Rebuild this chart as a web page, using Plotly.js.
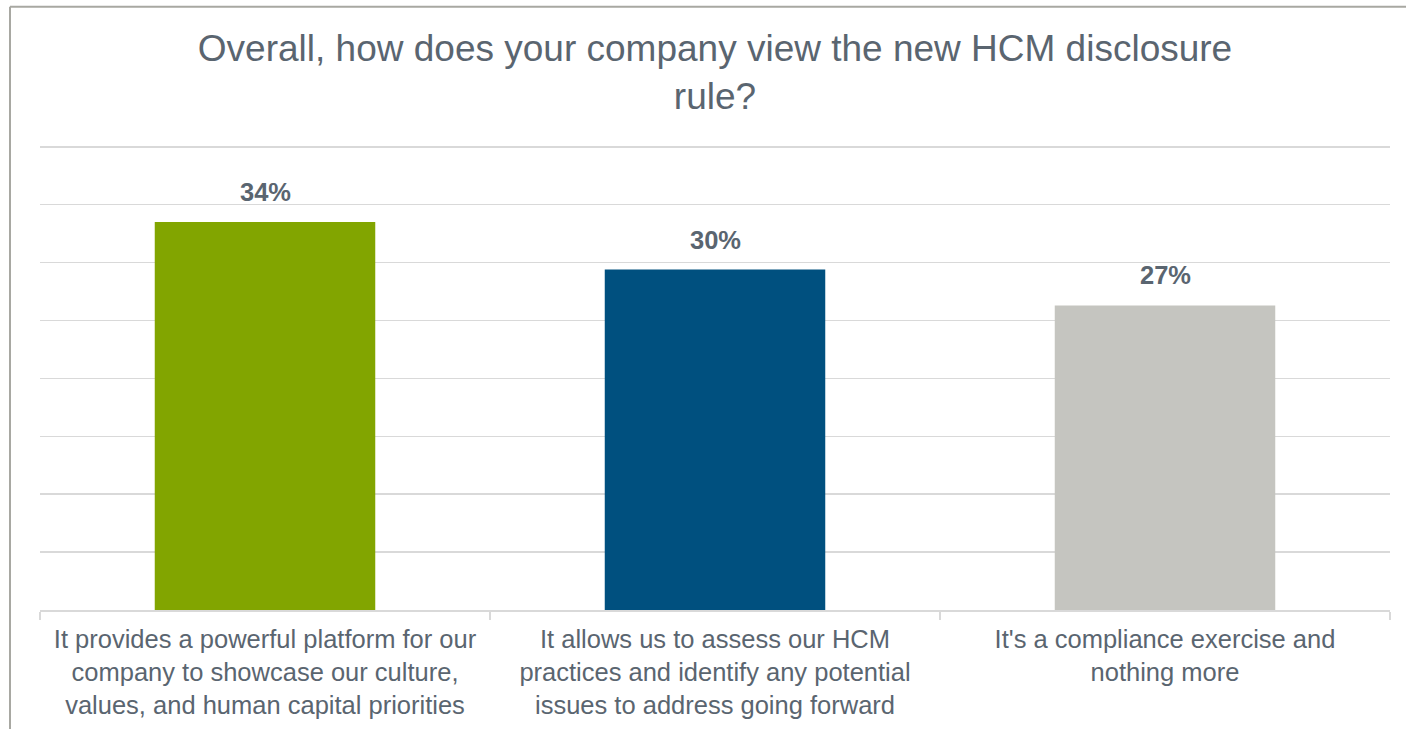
<!DOCTYPE html>
<html>
<head>
<meta charset="utf-8">
<script src="https://cdn.plot.ly/plotly-3.0.1.min.js"></script>
<style>
html,body{margin:0;padding:0;background:#fff;}
#chart{width:1406px;height:729px;}
</style>
</head>
<body>
<div id="chart"></div>
<script>
const categories = [
  "It provides a powerful platform for our<br>company to showcase our culture,<br>values, and human capital priorities",
  "It allows us to assess our HCM<br>practices and identify any potential<br>issues to address going forward",
  "It's a compliance exercise and<br>nothing more"
];
const values = [33.5, 29.4, 26.3];
const valueLabels = ["34%", "30%", "27%"];
const barColors = ["#82a500", "#00507f", "#c5c5c0"];

const textColor = "#5a6570";
const gridColor = "#d9d9d9";

const trace = {
  type: "bar",
  x: categories,
  y: values,
  marker: {color: barColors},
  hoverinfo: "skip"
};

const annotations = categories.map((c, i) => ({
  x: c, y: values[i], xref: "x", yref: "y",
  text: "<b>" + valueLabels[i] + "</b>",
  showarrow: false, yanchor: "bottom", yshift: 14,
  font: {family: "Liberation Sans, Arial, sans-serif", size: 25.5, color: textColor}
}));

const plotH = 729 - 141.2 - 119;
const layout = {
  width: 1406, height: 729,
  margin: {l: 40, r: 16, t: 141.2, b: 119},
  paper_bgcolor: "#ffffff",
  plot_bgcolor: "#ffffff",
  showlegend: false,
  bargap: 0.51,
  title: {
    text: "Overall, how does your company view the new HCM disclosure<br>rule?",
    x: 0.5, xref: "paper", xanchor: "center",
    y: 0.916, yref: "container", yanchor: "top",
    font: {family: "Liberation Sans, Arial, sans-serif", size: 37, color: textColor}
  },
  font: {family: "Liberation Sans, Arial, sans-serif", color: textColor},
  xaxis: {
    type: "category",
    showgrid: false,
    showline: true, linecolor: gridColor, linewidth: 2,
    ticks: "outside", tickson: "boundaries", ticklen: 8, tickcolor: gridColor, tickwidth: 2,
    ticklabelstandoff: 5,
    tickfont: {family: "Liberation Sans, Arial, sans-serif", size: 25.5, color: textColor},
    zeroline: false
  },
  yaxis: {
    range: [0, 40.5], dtick: 5, tick0: 0,
    showticklabels: false, ticks: "",
    showgrid: true, gridcolor: gridColor, gridwidth: 1.5,
    zeroline: false, showline: false
  },
  annotations: annotations,
  shapes: [
    {type: "line", xref: "paper", yref: "paper",
     x0: -30/1350, x1: 1366/1350, y0: 603/plotH, y1: 603/plotH,
     line: {color: "#a8a8a2", width: 2}},
    {type: "line", xref: "paper", yref: "paper",
     x0: -30/1350, x1: -30/1350, y0: 603/plotH, y1: -119/plotH,
     line: {color: "#a8a8a2", width: 2}}
  ]
};

Plotly.newPlot("chart", [trace], layout, {displayModeBar: false, staticPlot: true});
</script>
</body>
</html>
